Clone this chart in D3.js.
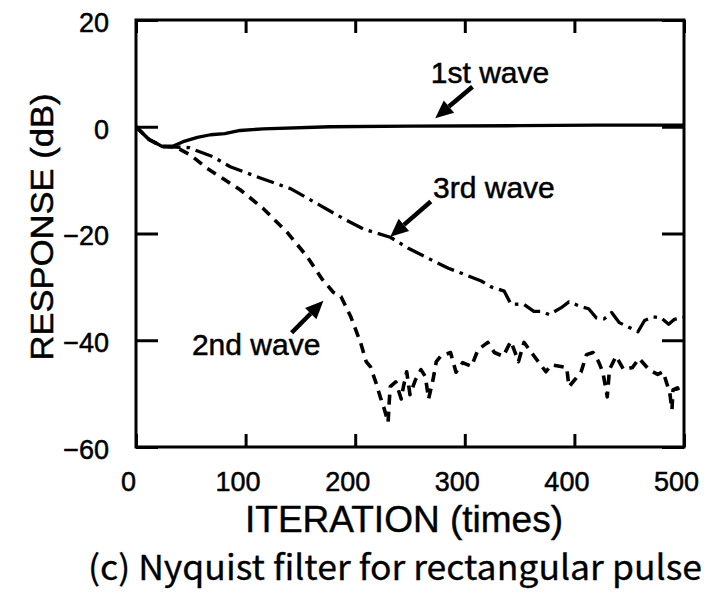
<!DOCTYPE html>
<html>
<head>
<meta charset="utf-8">
<script src="https://cdn.jsdelivr.net/npm/d3@7"></script>
<style>
  html, body { margin: 0; padding: 0; background: #fff; }
  svg { display: block; }
</style>
</head>
<body>
<svg id="chart" width="710" height="593"></svg>
<script>
// values (iteration, dB)
const xTicks = [0, 100, 200, 300, 400, 500];
const yTicks = [-60, -40, -20, 0, 20];

const wave1Iter = [0, 12, 24, 34, 43, 56, 68, 81, 95, 116, 177, 250, 350, 420, 500];
const wave1Db   = [0, -2.4, -3.7, -3.6, -2.8, -2.0, -1.5, -1.3, -0.7, -0.4, 0, 0.1, 0.2, 0.3, 0.3];

const wave2Iter = [0, 12, 24, 36, 49, 65, 80, 95, 116, 138, 156, 170, 180, 187, 196, 205, 210, 214, 219, 223, 226, 230,
  231, 232, 237, 242, 244, 247, 250, 255, 260, 264, 267, 271, 274, 278, 287, 292, 298, 306, 312, 321,
  327, 335, 342, 345, 349, 354, 363, 374, 379, 393, 395, 406, 411, 417, 422, 426, 430, 432, 438, 445,
  453, 459, 468, 476, 481, 484, 487, 489, 490, 494, 496];
const wave2Db = [0, -2.4, -3.7, -3.8, -5.2, -7.8, -9.8, -11.8, -15.3, -19.8, -24.3, -28.6, -31, -31.8, -35.6, -40.5, -44, -45, -48, -50.7, -52.5, -55.4,
  -51.7, -48.7, -47.8, -51, -48.7, -45.9, -50.2, -47.4, -45.5, -46.8, -51, -47.4, -44, -43, -42.3, -46, -44.2, -44.9, -41.8, -40.4,
  -42.3, -43, -40.2, -41.8, -44, -40.4, -42.9, -45.9, -44.6, -45.1, -48.7, -46, -42.7, -42.3, -44, -46, -50.6, -45.5, -43, -45.5,
  -45.1, -43.4, -45.5, -46.4, -45.9, -47.9, -49.8, -53, -49.3, -48.9, -49.8];

const wave3Iter = [0, 12, 24, 36, 48, 70, 86, 116, 141, 166, 190, 208, 232, 248, 269, 285, 315, 324, 336, 342, 354, 363,
  370, 377, 388, 395, 406, 413, 420, 427, 434, 441, 449, 458, 464, 472, 479, 486, 491, 500];
const wave3Db = [0, -2.4, -3.7, -3.8, -3.9, -5.6, -7.5, -9.8, -11.6, -14.5, -17.3, -19.2, -20.7, -22.7, -24.9, -26.5, -28.9, -30, -30.8, -33.2, -33.3, -34.6,
  -34.6, -35.2, -33.9, -32.8, -33.7, -34.1, -35.8, -36, -34.8, -36.7, -37.5, -38.4, -36.3, -35.6, -35.8, -37, -36.1, -35.7];

// annotation: label anchor, arrow tail, arrow tip (data units)
const notes = [
  {text: '1st wave', at: [269, 8.2], tail: [307, 7.5], tip: [273, 1.6]},
  {text: '3rd wave', at: [271, -13.3], tail: [269, -14.0], tip: [232, -20.6]},
  {text: '2nd wave', at: [51, -42.7], tail: [142, -38.6], tip: [171, -32.6]}
];

const svg = d3.select('#chart');
const x = d3.scaleLinear().domain([0, 500]).range([136, 684]);
const y = d3.scaleLinear().domain([-60, 20]).range([447, 20]);
const sans = '"Liberation Sans", Arial, Helvetica, sans-serif';
const gothic = '"Noto Sans CJK JP", "Noto Sans", sans-serif';

function styleAxis(g, fontSize) {
  g.select('.domain').remove();
  g.selectAll('.tick line').attr('stroke', '#000').attr('stroke-width', 3);
  g.attr('font-family', sans).attr('font-size', fontSize);
  g.selectAll('.tick text').attr('fill', '#000').attr('stroke', '#000').attr('stroke-width', 0.5);
}

svg.append('g')
  .attr('transform', `translate(0,${y(-60)})`)
  .call(d3.axisBottom(x).tickValues(xTicks).tickSize(-13).tickPadding(25).tickFormat(d3.format('d')))
  .call(g => styleAxis(g, 27))
  .call(g => g.selectAll('.tick text').attr('dx', -8));

svg.append('g')
  .attr('transform', `translate(0,${y(20)})`)
  .call(d3.axisTop(x).tickValues(xTicks).tickSize(-13).tickFormat(''))
  .call(g => styleAxis(g, 0));

svg.append('g')
  .attr('transform', `translate(${x(0)},0)`)
  .call(d3.axisLeft(y).tickValues(yTicks).tickSize(-22).tickPadding(27).tickFormat(d3.format('d')))
  .call(g => styleAxis(g, 27))
  .call(g => g.selectAll('.tick text').attr('dy', '0.42em'));

svg.append('g')
  .attr('transform', `translate(${x(500)},0)`)
  .call(d3.axisRight(y).tickValues(yTicks).tickSize(-22).tickFormat(''))
  .call(g => styleAxis(g, 0));

// frame
svg.append('rect')
  .attr('x', x(0)).attr('y', y(20))
  .attr('width', x(500) - x(0)).attr('height', y(-60) - y(20))
  .attr('fill', 'none').attr('stroke', '#000').attr('stroke-width', 3);

const line = d3.line().x(d => x(d[0])).y(d => y(d[1]));

const series = [
  {iter: wave3Iter, db: wave3Db, dash: '18,6,3.5,6', width: 3.3},
  {iter: wave2Iter, db: wave2Db, dash: '10,7', width: 3.6},
  {iter: wave1Iter, db: wave1Db, dash: null, width: 3.3}
];

svg.append('g').selectAll('path')
  .data(series)
  .join('path')
    .attr('d', s => line(d3.zip(s.iter, s.db)))
    .attr('fill', 'none')
    .attr('stroke', '#000')
    .attr('stroke-width', s => s.width)
    .attr('stroke-linejoin', 'round')
    .attr('stroke-dasharray', s => s.dash);

// arrows + labels
const noteG = svg.append('g');
notes.forEach(n => {
  const [x0, y0] = [x(n.tail[0]), y(n.tail[1])];
  const [x1, y1] = [x(n.tip[0]), y(n.tip[1])];
  const ang = Math.atan2(y1 - y0, x1 - x0);
  const headLen = 18, headHalf = 8;
  const bx = x1 - headLen * Math.cos(ang), by = y1 - headLen * Math.sin(ang);
  noteG.append('line')
    .attr('x1', x0).attr('y1', y0).attr('x2', bx).attr('y2', by)
    .attr('stroke', '#000').attr('stroke-width', 4.5);
  const px = -Math.sin(ang), py = Math.cos(ang);
  noteG.append('path')
    .attr('d', `M${x1},${y1}L${bx + px * headHalf},${by + py * headHalf}L${bx - px * headHalf},${by - py * headHalf}Z`)
    .attr('fill', '#000');
  noteG.append('text')
    .attr('x', x(n.at[0])).attr('y', y(n.at[1]))
    .attr('font-family', sans).attr('font-size', 30)
    .attr('stroke', '#000').attr('stroke-width', 0.5)
    .text(n.text);
});

// axis titles and caption
svg.append('text')
  .attr('transform', 'translate(53,227) rotate(-90)')
  .attr('text-anchor', 'middle')
  .attr('font-family', sans).attr('font-size', 32)
  .attr('stroke', '#000').attr('stroke-width', 0.5)
  .attr('textLength', 267).attr('lengthAdjust', 'spacingAndGlyphs')
  .text('RESPONSE (dB)');

svg.append('text')
  .attr('x', 245).attr('y', 532)
  .attr('font-family', sans).attr('font-size', 36)
  .attr('stroke', '#000').attr('stroke-width', 0.4)
  .attr('textLength', 318).attr('lengthAdjust', 'spacingAndGlyphs')
  .text('ITERATION (times)');

svg.append('text')
  .attr('x', 88).attr('y', 580)
  .attr('font-family', gothic).attr('font-size', 34)
  .attr('stroke', '#000').attr('stroke-width', 0.3)
  .attr('textLength', 614).attr('lengthAdjust', 'spacingAndGlyphs')
  .text('(c) Nyquist filter for rectangular pulse');
</script>
</body>
</html>
